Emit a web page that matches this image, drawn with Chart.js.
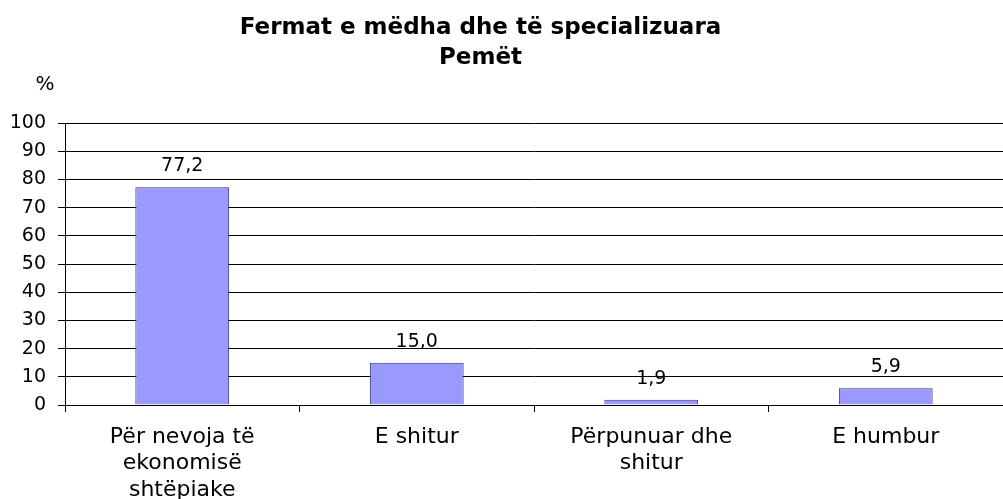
<!DOCTYPE html>
<html>
<head>
<meta charset="utf-8">
<script src="https://cdn.jsdelivr.net/npm/chart.js@4"></script>
<style>
  body { margin: 0; background: #fff; }
  #wrap { width: 1003px; height: 499px; }
</style>
</head>
<body>
<div id="wrap"><canvas id="pemet"></canvas></div>
<script>
const categories = [
  ["Për nevoja të", "ekonomisë", "shtëpiake"],
  "E shitur",
  ["Përpunuar dhe", "shitur"],
  "E humbur",
];
const values = [77.2, 15.0, 1.9, 5.9];
const titleLines = ["Fermat e mëdha dhe të specializuara", "Pemët"];
const yMax = 100;
const yStep = 10;

const font = "'DejaVu Sans', sans-serif";

// value labels above bars, comma as decimal sign
const barLabels = {
  id: "barLabels",
  afterDatasetsDraw(chart) {
    const ctx = chart.ctx;
    ctx.save();
    ctx.font = "19px " + font;
    ctx.fillStyle = "#000";
    ctx.textAlign = "center";
    ctx.textBaseline = "middle";
    chart.getDatasetMeta(0).data.forEach((bar, i) => {
      ctx.fillText(values[i].toFixed(1).replace(".", ","), bar.x, bar.y - 21);
    });
    ctx.restore();
  },
};

// title (a bit left of centre, like the original) and the "%" unit
const headings = {
  id: "headings",
  afterDraw(chart) {
    const ctx = chart.ctx;
    const a = chart.chartArea;
    ctx.save();
    ctx.fillStyle = "#000";
    ctx.textAlign = "center";
    ctx.textBaseline = "middle";
    ctx.font = "bold 23px " + font;
    titleLines.forEach((t, i) => {
      ctx.fillText(t, chart.width / 2 - 21, 28 + i * 30);
    });
    ctx.font = "20px " + font;
    ctx.fillText("%", a.left - 20, a.top - 38);
    ctx.restore();
  },
};

new Chart(document.getElementById("pemet"), {
  type: "bar",
  data: {
    labels: categories,
    datasets: [
      {
        data: values,
        backgroundColor: "#9999ff",
        borderColor: "#333366",
        borderWidth: 1,
        borderSkipped: "bottom",
        barPercentage: 0.4,
        categoryPercentage: 1,
      },
    ],
  },
  options: {
    responsive: true,
    maintainAspectRatio: false,
    animation: false,
    layout: { padding: { left: 0, right: 0, top: 123, bottom: 0 } },
    plugins: {
      legend: { display: false },
      tooltip: { enabled: false },
      title: { display: false },
    },
    scales: {
      x: {
        offset: true,
        grid: {
          offset: true,
          drawOnChartArea: false,
          drawTicks: true,
          tickLength: 7,
          color: "#000",
        },
        border: { color: "#000" },
        ticks: {
          color: "#000",
          font: { family: font, size: 22, lineHeight: 1.2 },
          padding: 12,
          maxRotation: 0,
        },
        afterFit(scale) { scale.height = 94; },
      },
      y: {
        min: 0,
        max: yMax,
        grid: { color: "#000", tickLength: 7 },
        border: { color: "#000" },
        ticks: {
          stepSize: yStep,
          color: "#000",
          font: { family: font, size: 19 },
          padding: 12,
        },
        afterFit(scale) { scale.width = 65; },
      },
    },
  },
  plugins: [barLabels, headings],
});
</script>
</body>
</html>
